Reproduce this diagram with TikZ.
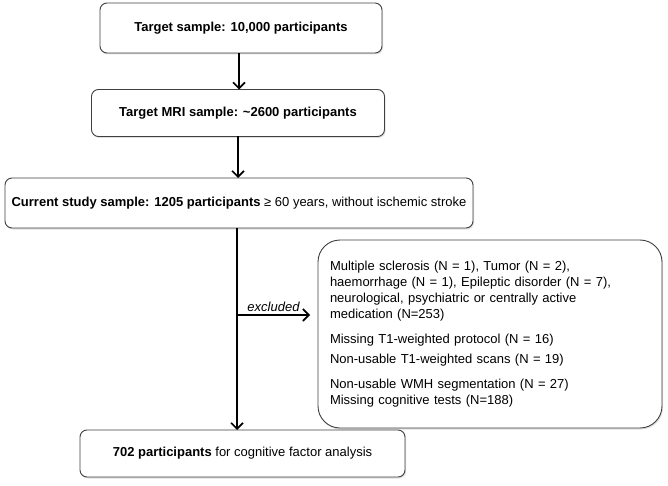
\documentclass[tikz,border=0pt]{standalone}
\usepackage{fontspec}
\setmainfont{Liberation Sans}
\usepackage{tikz}
\usetikzlibrary{arrows.meta,shadows}

\begin{document}
\begin{tikzpicture}[x=1pt,y=1pt,
    every node/.style={font=\fontsize{13}{16}\selectfont, outer sep=0pt},
    stagebox/.style={draw=black!75, line width=0.9pt, rounded corners=7pt, fill=white,
        drop shadow={opacity=0.25, shadow xshift=1pt, shadow yshift=-1.5pt}},
    exclbox/.style={stagebox, rounded corners=22pt, align=left, text width=320pt, inner xsep=12pt},
    flow/.style={line width=1.8pt, -{Straight Barb[length=6pt,width=12pt,line width=1.6pt]}}]
    \useasboundingbox (0,0) rectangle (668,-486);
    \node[stagebox, minimum width=282pt, minimum height=50pt] (target) at (241,-28) {\textbf{Target sample: 10,000 participants}};
    \node[stagebox, minimum width=293pt, minimum height=47pt] (mri) at (238,-113) {\textbf{Target MRI sample: \textasciitilde2600 participants}};
    \node[stagebox, minimum width=468pt, minimum height=50pt] (current) at (239,-203) {\textbf{Current study sample: 1205 participants} ≥ 60 years, without ischemic stroke};
    \node[exclbox, minimum width=344pt, minimum height=188pt] (excl) at (490,-334) {Multiple sclerosis (N = 1), Tumor (N = 2),\\ haemorrhage (N = 1), Epileptic disorder (N = 7),\\ neurological, psychiatric or centrally active\\ medication (N=253)\\[9pt] Missing T1-weighted protocol (N = 16)\\[4pt] Non-usable T1-weighted scans (N = 19)\\[9pt] Non-usable WMH segmentation (N = 27)\\ Missing cognitive tests (N=188)};
    \node[stagebox, minimum width=325pt, minimum height=47pt] (final) at (242.5,-453.5) {\textbf{702 participants} for cognitive factor analysis};
    \coordinate (branch) at (237,-315);
    \coordinate (tip) at (310,-315);
    \draw[flow] (target.south -| 239,0) -- (mri.north -| 239,0);
    \draw[flow] (mri.south -| 238,0) -- (current.north -| 238,0);
    \draw[flow] (current.south -| branch) -- (final.north -| branch);
    \draw[flow] (branch) -- node[above, font=\fontsize{13}{16}\selectfont\itshape] (exlabel) {excluded} (tip);
\end{tikzpicture}
\end{document}
